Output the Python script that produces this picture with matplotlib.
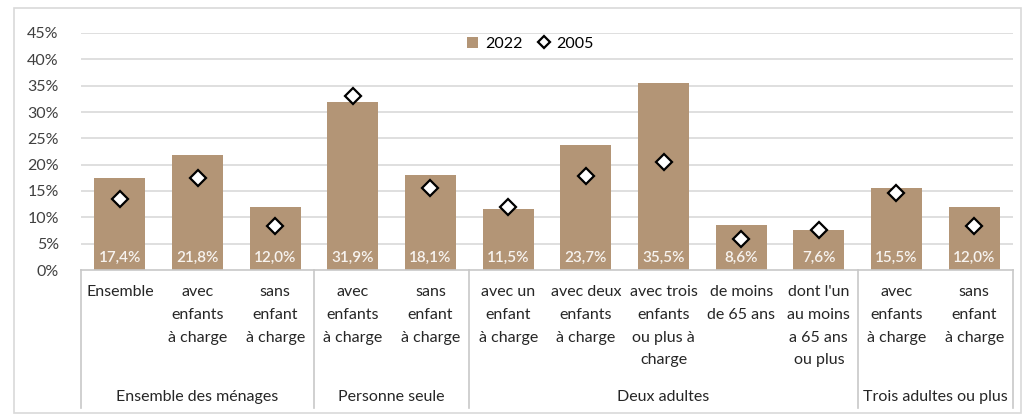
import matplotlib
matplotlib.use("Agg")
import matplotlib.pyplot as plt
from matplotlib.lines import Line2D
from matplotlib.patches import Rectangle

plt.rcParams["font.family"] = ["Lato", "DejaVu Sans"]

categories = [
    "Ensemble", "avec\nenfants\nà charge", "sans\nenfant\nà charge",
    "avec\nenfants\nà charge", "sans\nenfant\nà charge",
    "avec un\nenfant\nà charge", "avec deux\nenfants\nà charge",
    "avec trois\nenfants\nou plus à\ncharge", "de moins\nde 65 ans",
    "dont l'un\nau moins\na 65 ans\nou plus",
    "avec\nenfants\nà charge", "sans\nenfant\nà charge",
]
groups = ["Ensemble des ménages", "Personne seule", "Deux adultes", "Trois adultes ou plus"]
group_sizes = [3, 2, 5, 2]
val_2022 = [17.4, 21.8, 12.0, 31.9, 18.1, 11.5, 23.7, 35.5, 8.6, 7.6, 15.5, 12.0]
val_2005 = [13.5, 17.5, 8.4, 33.1, 15.6, 11.9, 17.9, 20.5, 5.9, 7.6, 14.6, 8.4]
yticks = [0, 5, 10, 15, 20, 25, 30, 35, 40, 45]

BAR = "#b39576"
GRID = "#d9d9d9"
W, H = 1023, 415

fig = plt.figure(figsize=(W / 100, H / 100), dpi=100)
ax = fig.add_axes([81 / W, 1 - 270 / H, (1013 - 81) / W, (270 - 33) / H])

n = len(categories)
x = list(range(n))
bars = ax.bar(x, val_2022, width=0.66, color=BAR, zorder=2, label="2022")
pts, = ax.plot(x, val_2005, linestyle="none", marker="D", markersize=8.5,
               markerfacecolor="white", markeredgecolor="black", markeredgewidth=1.6,
               zorder=3, label="2005")

for xi, v in zip(x, val_2022):
    ax.text(xi, 2.4, f"{v:.1f}%".replace(".", ","), ha="center", va="center",
            color="#f7f3ef", fontsize=11, fontweight="semibold", zorder=4)

ax.set_xlim(-0.5, n - 0.5)
ax.set_ylim(0, 45)
ax.set_yticks(yticks)
ax.set_yticklabels([f"{t}%" for t in yticks], fontsize=11.5, color="#404040")
ax.tick_params(axis="y", length=0, pad=16)
ax.set_xticks([])
for t in yticks[1:]:
    ax.axhline(t, color=GRID, linewidth=1.2, zorder=1)
for s in ["top", "right", "left"]:
    ax.spines[s].set_visible(False)
ax.spines["bottom"].set_color("#c8c8c8")
ax.spines["bottom"].set_linewidth(1.2)

trans = ax.get_xaxis_transform()
px = 1.0 / (270 - 33)
for xi, lab in zip(x, categories):
    ax.text(xi, -15 * px, lab, transform=trans, ha="center", va="top",
            multialignment="center", fontsize=11.5, color="#262626",
            linespacing=1.8)

bottom = -(408 - 270) * px
edges = [-0.5]
for s in group_sizes:
    edges.append(edges[-1] + s)
for e in edges:
    ax.add_line(Line2D([e, e], [0, bottom], transform=trans, color="#c8c8c8",
                       linewidth=1.2, clip_on=False))
for g, a, b in zip(groups, edges[:-1], edges[1:]):
    ax.text((a + b) / 2, -(397 - 270) * px, g, transform=trans, ha="center",
            va="center", fontsize=11.5, color="#262626")

ax.legend([bars, pts], ["2022", "2005"], loc="upper center",
          bbox_to_anchor=(0.482, 1.045), ncol=2, frameon=False,
          fontsize=11.5, handlelength=0.7, handletextpad=0.4, columnspacing=1.0,
          markerscale=0.75)

fig.add_artist(Rectangle((14 / W, 1 - 413 / H), (1021 - 14) / W, (413 - 8) / H,
                         transform=fig.transFigure, fill=False,
                         edgecolor="#d9d9d9", linewidth=1.2))

fig.savefig("out.png", dpi=100)
